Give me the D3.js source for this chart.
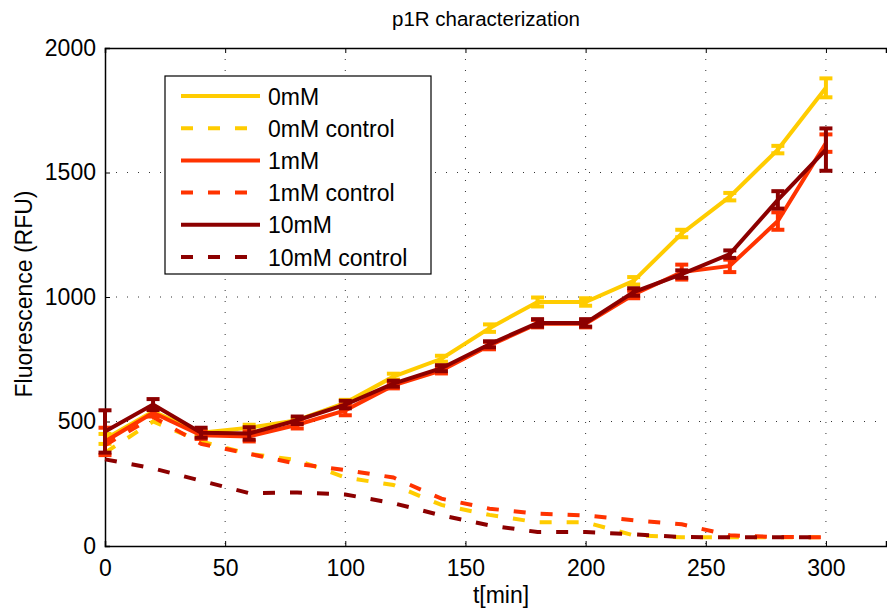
<!DOCTYPE html>
<html>
<head>
<meta charset="utf-8">
<script src="https://cdn.jsdelivr.net/npm/d3@7"></script>
<style>
  body { margin: 0; background: #fff; }
  text { font-family: "Liberation Sans", Arial, sans-serif; fill: #000; }
</style>
</head>
<body>
<div id="container"></div>
<script>
// time points (min)
let times = [0, 20, 40, 60, 80, 100, 120, 140, 160, 180, 200, 220, 240, 260, 280, 300];

// measured series
let mM0 = [430, 540, 455, 475, 505, 575, 680, 752, 875, 980, 980, 1065, 1255, 1403, 1592, 1840];
let mM1 = [420, 535, 445, 440, 487, 545, 645, 705, 805, 893, 893, 1010, 1100, 1125, 1305, 1618];
let mM10 = [460, 568, 455, 452, 505, 568, 652, 714, 810, 896, 896, 1020, 1092, 1172, 1390, 1592];

// error bars (+/-)
let err0 = [20, 15, 10, 12, 10, 12, 12, 12, 15, 18, 15, 15, 15, 15, 15, 38];
let err1 = [55, 15, 15, 20, 15, 20, 12, 12, 15, 15, 15, 15, 30, 25, 35, 35];
let err10 = [85, 22, 20, 25, 15, 15, 12, 12, 12, 15, 15, 15, 15, 15, 35, 85];

// controls
let ctrl0 = [375, 500, 420, 370, 345, 275, 245, 165, 125, 95, 95, 43, 35, 35, 35, 35];
let ctrl1 = [405, 518, 410, 370, 330, 305, 275, 190, 150, 130, 123, 103, 87, 43, 36, 35];
let ctrl10 = [348, 312, 262, 212, 215, 207, 172, 123, 83, 56, 56, 47, 36, 35, 35, 35];

let xTicks = [0, 50, 100, 150, 200, 250, 300];
let yTicks = [0, 500, 1000, 1500, 2000];

let w = 887;
let h = 610;
let padLeft = 105, padRight = 886, padTop = 48, padBottom = 546;

let YELLOW = '#ffcc00', RED = '#ff3300', DARK = '#8c0000';

let series = [
    {name: '0mM', vals: mM0, err: err0, color: YELLOW, dash: null},
    {name: '0mM control', vals: ctrl0, err: null, color: YELLOW, dash: '12,15'},
    {name: '1mM', vals: mM1, err: err1, color: RED, dash: null},
    {name: '1mM control', vals: ctrl1, err: null, color: RED, dash: '12,15'},
    {name: '10mM', vals: mM10, err: err10, color: DARK, dash: null},
    {name: '10mM control', vals: ctrl10, err: null, color: DARK, dash: '12,15'}
];

let viz = d3.select('#container')
    .append('svg')
    .attr('width', w)
    .attr('height', h);

let xScale = d3.scaleLinear().domain([0, 325]).range([padLeft, padRight]);
let yScale = d3.scaleLinear().domain([0, 2000]).range([padBottom, padTop]);

// GRID
let grid = viz.append('g').classed('grid', true);
grid.selectAll('.vg').data(xTicks.slice(1)).enter().append('line')
    .attr('x1', d => xScale(d)).attr('x2', d => xScale(d))
    .attr('y1', padTop).attr('y2', padBottom)
    .attr('stroke', '#333').attr('stroke-width', 1)
    .attr('stroke-dasharray', '1,10');
grid.selectAll('.hg').data(yTicks.slice(1, -1)).enter().append('line')
    .attr('x1', padLeft).attr('x2', padRight)
    .attr('y1', d => yScale(d)).attr('y2', d => yScale(d))
    .attr('stroke', '#333').attr('stroke-width', 1)
    .attr('stroke-dasharray', '1,10');

// AXES (ticks inward, like matlab)
let xAxis = d3.axisBottom(xScale).tickValues(xTicks).tickSize(-5).tickPadding(14).tickFormat(d3.format('d'));
let xAxisGroup = viz.append('g').attr('transform', `translate(0,${padBottom})`).call(xAxis);
let xTop = d3.axisTop(xScale).tickValues(xTicks).tickSize(-5).tickFormat('');
let xTopGroup = viz.append('g').attr('transform', `translate(0,${padTop})`).call(xTop);
let yAxis = d3.axisLeft(yScale).tickValues(yTicks).tickSize(-5).tickPadding(9).tickFormat(d3.format('d'));
let yAxisGroup = viz.append('g').attr('transform', `translate(${padLeft},0)`).call(yAxis);

[xAxisGroup, xTopGroup, yAxisGroup].forEach(g => {
    g.select('.domain').attr('stroke', '#000').attr('stroke-width', 1.5);
    g.selectAll('line').attr('stroke', '#000').attr('stroke-width', 1);
    g.selectAll('text').attr('font-size', 23).attr('font-family', '"Liberation Sans", Arial, sans-serif');
});
xAxisGroup.selectAll('text').attr('dy', '0.71em');

// GRAPH
let line = d3.line()
    .x((d, i) => xScale(times[i]))
    .y(d => yScale(d));

let graphGroup = viz.append('g').classed('graphGroup', true);

series.forEach(s => {
    let g = graphGroup.append('g');
    g.append('path')
        .datum(s.vals)
        .attr('d', line)
        .attr('fill', 'none')
        .attr('stroke', s.color)
        .attr('stroke-width', 4)
        .attr('stroke-dasharray', s.dash);
    if (s.err) {
        let bars = g.selectAll('.eb').data(s.vals).enter().append('g');
        bars.append('line')
            .attr('x1', (d, i) => xScale(times[i])).attr('x2', (d, i) => xScale(times[i]))
            .attr('y1', (d, i) => yScale(d + s.err[i])).attr('y2', (d, i) => yScale(d - s.err[i]))
            .attr('stroke', s.color).attr('stroke-width', 4);
        [1, -1].forEach(sign => {
            bars.append('line')
                .attr('x1', (d, i) => xScale(times[i]) - 6.5).attr('x2', (d, i) => xScale(times[i]) + 6.5)
                .attr('y1', (d, i) => yScale(d + sign * s.err[i])).attr('y2', (d, i) => yScale(d + sign * s.err[i]))
                .attr('stroke', s.color).attr('stroke-width', 4);
        });
    }
});

// LEGEND
let legend = viz.append('g').attr('transform', 'translate(165,76)');
legend.append('rect')
    .attr('width', 266).attr('height', 198)
    .attr('fill', '#fff').attr('stroke', '#000').attr('stroke-width', 1.2);
let rows = legend.selectAll('.row').data(series).enter().append('g')
    .attr('transform', (d, i) => `translate(0,${20 + i * 32.2})`);
rows.append('line')
    .attr('x1', 16).attr('x2', 95).attr('y1', 0).attr('y2', 0)
    .attr('stroke', d => d.color).attr('stroke-width', 4)
    .attr('stroke-dasharray', d => d.dash);
rows.append('text')
    .attr('x', 103).attr('y', 8.5)
    .attr('font-size', 23)
    .text(d => d.name);

// LABELS
viz.append('text')
    .attr('x', 486).attr('y', 26)
    .attr('text-anchor', 'middle')
    .attr('font-size', 20.5)
    .text('p1R characterization');
viz.append('text')
    .attr('x', 501).attr('y', 603)
    .attr('text-anchor', 'middle')
    .attr('font-size', 23)
    .text('t[min]');
viz.append('text')
    .attr('transform', 'translate(32,294) rotate(-90)')
    .attr('text-anchor', 'middle')
    .attr('font-size', 23)
    .text('Fluorescence (RFU)');
</script>
</body>
</html>
